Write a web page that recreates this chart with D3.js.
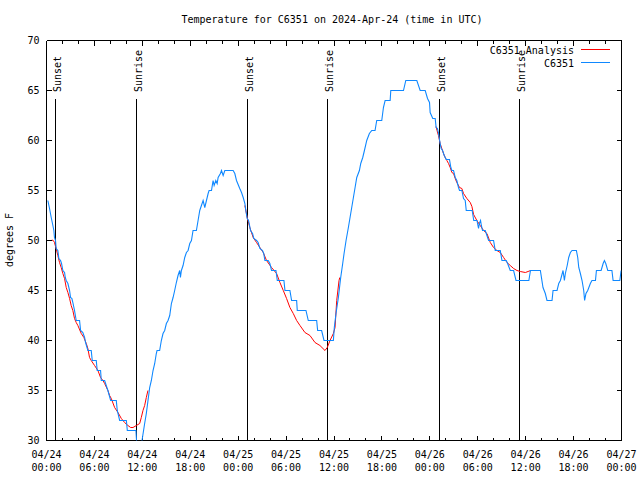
<!DOCTYPE html>
<html>
<head>
<meta charset="utf-8">
<script src="https://cdn.jsdelivr.net/npm/d3@7"></script>
<style>
  html, body { margin: 0; padding: 0; background: #fff; }
  svg { display: block; }
  text { font-family: "DejaVu Sans Mono", "Liberation Mono", monospace; font-size: 10px; fill: #000; }
</style>
</head>
<body>
<svg id="chart" width="640" height="480"></svg>
<script>
// ---------------- data ----------------
const titleText = "Temperature for C6351 on 2024-Apr-24 (time in UTC)";
const yLabelText = "degrees F";
const startDate = Date.UTC(2024, 3, 24, 0, 0); // 2024-04-24 00:00 UTC
const rangeHours = [0, 72];
const yDomain = [30, 70];
const yTicks = [30, 35, 40, 45, 50, 55, 60, 65, 70];
const majorTickHours = [0, 6, 12, 18, 24, 30, 36, 42, 48, 54, 60, 66, 72];

// Sunrise / sunset markers (hours since start)
const eventHours  = [1.12, 11.26, 25.16, 35.19, 49.22, 59.24];
const eventLabels = ["Sunset", "Sunrise", "Sunset", "Sunrise", "Sunset", "Sunrise"];

// Legend / series names
const seriesNames = ["C6351 Analysis", "C6351"];

// Observed temperatures C6351 (hours since start, °F)
const obsHours = [
  0.17,0.38,0.59,0.8,0.92,1.0,1.13,1.21,1.42,1.55,1.76,1.88,2.05,2.26,2.35,2.47,2.68,2.89,3.01,3.18,
  3.3,3.51,3.72,4.14,4.27,4.55,4.77,4.89,5.18,5.6,5.73,6.23,6.35,6.77,6.86,7.28,7.48,7.69,8.03,8.74,
  8.86,9.16,10.0,10.12,11.2,11.35,11.85,11.96,
  12.29,12.5,12.71,12.92,13.13,13.34,13.55,13.75,13.84,14.17,14.38,14.59,14.8,15.01,15.22,15.43,15.64,15.85,
  16.05,16.26,16.47,16.68,16.77,16.89,17.1,17.31,17.52,17.73,17.94,18.15,18.35,18.77,18.98,19.19,19.4,19.61,
  19.82,20.03,20.24,20.36,20.66,20.86,20.99,21.2,21.37,21.49,21.78,21.91,22.12,22.33,23.37,23.58,23.79,24.2,
  24.42,24.63,24.84,24.96,25.13,25.3,25.55,25.8,25.96,26.3,26.5,26.72,27.05,27.2,27.35,27.76,27.97,28.18,
  28.73,28.9,29.73,29.86,30.48,30.69,31.32,31.4,32.49,32.78,33.83,33.95,34.45,34.75,35.92,36.04,36.25,36.55,
  36.75,36.84,37.09,37.26,37.51,37.8,38.01,38.22,38.43,38.64,38.85,39.18,39.35,39.6,39.81,40.1,40.43,40.73,
  41.14,41.35,41.98,42.19,42.4,43.03,43.11,44.7,44.99,46.37,46.79,47.42,47.71,47.96,
  48.04,48.37,48.67,48.79,48.95,49.1,49.17,49.29,49.42,49.6,49.8,50.05,50.46,50.63,50.76,50.97,51.18,51.38,
  51.59,51.72,52.01,52.22,52.43,52.56,53.3,53.5,53.9,54.1,54.2,54.35,54.45,54.6,54.94,55.15,55.36,55.98,
  56.19,56.82,57.03,57.57,57.74,58.07,58.49,58.79,60.4,60.6,61.84,62.17,62.46,62.67,63.3,63.43,63.93,64.14,
  64.35,64.68,64.85,64.97,65.2,65.39,65.6,65.81,66.35,66.52,66.65,66.85,67.06,67.27,67.38,67.55,67.77,68.1,
  68.3,68.74,68.86,69.45,69.7,69.86,70.03,70.28,70.8,70.95,71.79,71.95
];
const obsTemps = [
  54,53.2,52.3,51.5,51,50.3,50,49.2,49,48.2,48,47.7,47,46.8,46.3,46,45.7,45,44.3,44.2,
  43.8,43,42,42,41,40.8,40.3,39.8,39,39,38,38,37,37,36,36,35.5,35,34,34,
  33,32,32,31,31,29,29,30,
  31.7,32.7,34,35.3,36,37,37.7,38.7,39,39,40,40.7,41,41.7,42,42.5,43.7,44.3,
  45,45.8,46.5,47,46.3,47,47.5,48.3,48.8,49,49.7,50,51,51,52,53,53.5,54,
  53.3,54,54.7,55,55,56,55.5,56,55.7,56.3,56.7,57,56.5,57,57,56.7,56,55.2,
  54.8,54.3,53.7,53,52.2,52,51,50.7,50.2,50,49.8,49.2,49,48.7,48,48,47.7,47,
  47,46,46,45,45,44,44,43,43,42,42,41,41,40,40,41.3,42.7,44.3,
  45.7,46.3,47.7,48.7,50,51.3,52.3,53.3,54.3,55.3,56.3,57,57.7,58.3,59,60,60.7,61,
  61,62,62,63.3,64,64,65,65,66,66,65,65,64.2,63.8,
  62.8,62.2,62.2,61.3,61.2,60.7,60.3,59.7,59.2,59,58.5,58.1,58.1,57.3,57,57,56.3,56,
  55.3,55,55,54.2,54,53,53,52,52,51.2,51.7,52,51.5,51,51,50.5,50,50,
  49,49,48,48,47.7,47,47,46,46,47,47,45.3,44.7,44,44,45,45,45.7,
  46,47,46,46.7,47.5,48.3,48.8,49,49,48.3,47.3,46.7,46,45,44,44.7,45,45.7,
  46,46,47,47,47.7,48,47.7,47,47,46,46,47
];

// Analysis C6351 (three runs, null separates them)
const anaHours = [
  0.67,0.85,1.0,1.1,1.21,1.42,1.63,1.84,2.05,2.26,2.47,2.68,2.89,3.09,3.3,3.51,3.72,3.93,4.35,4.68,
  4.98,5.18,5.39,5.6,6.02,6.44,6.77,7.07,7.28,7.69,7.9,8.11,8.53,8.95,9.37,9.78,10.2,10.54,10.83,11.25,
  11.67,11.87,12.08,12.29,12.5,12.7,
  null,
  24.84,25.13,25.46,25.88,26.3,26.72,27.14,27.55,28.18,28.81,29.23,29.65,30.06,30.48,30.9,31.32,31.74,32.36,
  32.99,33.62,34.24,34.87,35.16,35.5,35.92,36.13,36.34,36.63,36.72,
  null,
  48.77,48.9,49.08,49.29,49.5,49.71,49.92,50.13,50.34,50.55,50.76,50.97,51.18,51.38,51.72,52.01,52.22,52.64,
  53.06,53.27,53.48,53.89,54.31,54.73,55.15,55.57,55.98,56.4,56.82,57.24,57.66,58.07,58.49,58.91,59.33,59.96,
  60.3,60.62
];
const anaTemps = [
  50.05,50,49.8,49.5,49.2,48.5,47.8,47.3,46.7,46.2,45.3,44.8,44.2,43.5,43,42.2,41.8,41.5,40.7,40.3,
  39.7,39.2,38.3,38,37.5,37,36.3,36,35.7,35,34.5,34.2,33.3,32.8,32.2,31.8,31.5,31.3,31.3,31.5,
  31.7,32.3,33,33.5,34.3,35,
  null,
  53.5,52.3,51.3,50.3,49.8,49.3,48.8,48,47.3,46.7,45.8,45,44.2,43.3,42.7,42,41.5,40.8,
  40.5,39.8,39.5,39,39.3,40,40.7,41.3,44,46,46.3,
  null,
  61.4,61,60.5,59.7,59.2,58.7,58.3,58,57.7,57.3,56.8,56.7,56.2,55.8,55.3,55.2,54.7,54.2,
  53.8,53.4,52.6,52,51.5,51,50.7,49.8,49.3,49,48.8,48.3,47.8,47.5,47.2,47,46.9,46.8,
  46.9,47
];

// ---------------- drawing ----------------
(function () {
const H = 3600 * 1000;
const toDate = h => new Date(startDate + h * H);

const svg = d3.select("#chart");
const pL = 46.5, pR = 621.5, pT = 40.5, pB = 440.5;

const x = d3.scaleUtc().domain(rangeHours.map(toDate)).range([pL, pR]);
const y = d3.scaleLinear().domain(yDomain).range([pB, pT]);

const colAna = "#ff0000", colObs = "#0f88ff";

// title
svg.append("text").attr("x", 332).attr("y", 23).attr("text-anchor", "middle").text(titleText);

// y label
svg.append("text").attr("transform", "translate(13,240) rotate(-90)")
  .attr("text-anchor", "middle").text(yLabelText);

const minorHours = d3.range(0, 73, 2).filter(h => h % 6 !== 0);

function styleAxis(g) {
  g.selectAll("path, line").attr("stroke", "#000").attr("shape-rendering", "crispEdges");
  g.attr("font-family", null).attr("font-size", null);
}

// bottom axis (major)
const gB = svg.append("g").attr("transform", `translate(0,${pB})`)
  .call(d3.axisBottom(x).tickValues(majorTickHours.map(toDate)).tickSizeInner(-5).tickSizeOuter(0).tickPadding(6).offset(0));
gB.selectAll(".tick text").each(function(d) {
  const t = d3.select(this);
  t.text(null).attr("dy", null).attr("y", null);
  t.append("tspan").attr("x", 0).attr("y", 17).text(d3.utcFormat("%m/%d")(d));
  t.append("tspan").attr("x", 0).attr("y", 30.5).text(d3.utcFormat("%H:%M")(d));
});
styleAxis(gB);
const gBm = svg.append("g").attr("transform", `translate(0,${pB})`)
  .call(d3.axisBottom(x).tickValues(minorHours.map(toDate)).tickSizeInner(-3).tickSizeOuter(0).tickFormat("").offset(0));
gBm.select(".domain").remove();
styleAxis(gBm);

// top axis
const gT = svg.append("g").attr("transform", `translate(0,${pT})`)
  .call(d3.axisTop(x).tickValues(majorTickHours.map(toDate)).tickSizeInner(-5).tickSizeOuter(0).tickFormat("").offset(0));
styleAxis(gT);
const gTm = svg.append("g").attr("transform", `translate(0,${pT})`)
  .call(d3.axisTop(x).tickValues(minorHours.map(toDate)).tickSizeInner(-3).tickSizeOuter(0).tickFormat("").offset(0));
gTm.select(".domain").remove();
styleAxis(gTm);

// left axis
const gL = svg.append("g").attr("transform", `translate(${pL},0)`)
  .call(d3.axisLeft(y).tickValues(yTicks).tickSizeInner(-5).tickSizeOuter(0).tickPadding(7).offset(0));
styleAxis(gL);
// right axis
const gR = svg.append("g").attr("transform", `translate(${pR},0)`)
  .call(d3.axisRight(y).tickValues(yTicks).tickSizeInner(-5).tickSizeOuter(0).tickFormat("").offset(0));
styleAxis(gR);

// clip
svg.append("clipPath").attr("id", "plotclip").append("rect")
  .attr("x", pL).attr("y", pT).attr("width", pR - pL).attr("height", pB - pT);

// sunrise / sunset markers
const ev = svg.append("g");
eventHours.forEach((h, i) => {
  const px = Math.round(x(toDate(h)) - 0.5) + 0.5;
  ev.append("line").attr("x1", px).attr("x2", px).attr("y1", 99).attr("y2", pB)
    .attr("stroke", "#000").attr("stroke-width", 1).attr("shape-rendering", "crispEdges");
  ev.append("text").attr("transform", `translate(${px + 5.5},92) rotate(-90)`)
    .attr("text-anchor", "start").text(eventLabels[i]);
});

// series
const anaData = anaHours.map((h, i) => ({ h, t: anaTemps[i] }));
const obsData = obsHours.map((h, i) => ({ h, t: obsTemps[i] }));
const line = d3.line().defined(d => d.h != null && d.t != null)
  .x(d => x(toDate(d.h))).y(d => y(d.t));

const plot = svg.append("g").attr("clip-path", "url(#plotclip)");
plot.append("path").datum(anaData).attr("d", line)
  .attr("fill", "none").attr("stroke", colAna).attr("stroke-width", 1);
plot.append("path").datum(obsData).attr("d", line)
  .attr("fill", "none").attr("stroke", colObs).attr("stroke-width", 1.1);

// legend
const lg = svg.append("g");
lg.append("text").attr("x", 574).attr("y", 54).attr("text-anchor", "end").text(seriesNames[0]);
lg.append("line").attr("x1", 581).attr("x2", 610).attr("y1", 49.5).attr("y2", 49.5)
  .attr("stroke", colAna).attr("shape-rendering", "crispEdges");
lg.append("text").attr("x", 574).attr("y", 66.5).attr("text-anchor", "end").text(seriesNames[1]);
lg.append("line").attr("x1", 581).attr("x2", 610).attr("y1", 62.5).attr("y2", 62.5)
  .attr("stroke", colObs).attr("shape-rendering", "crispEdges");
})();
</script>
</body>
</html>
